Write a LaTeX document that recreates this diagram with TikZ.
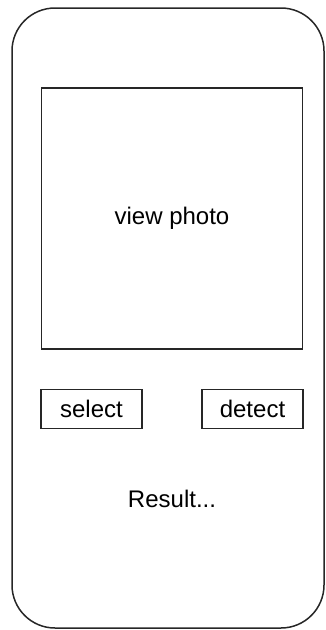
\documentclass[tikz,border=0pt]{standalone}
\usepackage{fontspec}
\setmainfont{Liberation Sans}
\begin{document}
\begin{tikzpicture}[x=1pt,y=-1pt,
  frame/.style={draw=black!85,line width=1.5pt},
  btn/.style={frame,minimum width=100pt,minimum height=39pt,inner sep=0pt},
  lbl/.style={font=\fontsize{24}{28}\selectfont}]
\useasboundingbox (0,0) rectangle (325,630);
\draw[frame,rounded corners=43pt] (12,8) rectangle (324,628);
\node[frame,minimum width=261pt,minimum height=261pt,inner sep=0pt,lbl] (photo) at (172,218.5) {view photo};
\node[btn,minimum width=101pt,lbl] (select) at (91.5,409) {select};
\node[btn,minimum width=101pt,lbl] (detect) at (252.5,409) {detect};
\node[lbl,inner sep=0pt] (result) at (172,499) {Result...};
\end{tikzpicture}
\end{document}
